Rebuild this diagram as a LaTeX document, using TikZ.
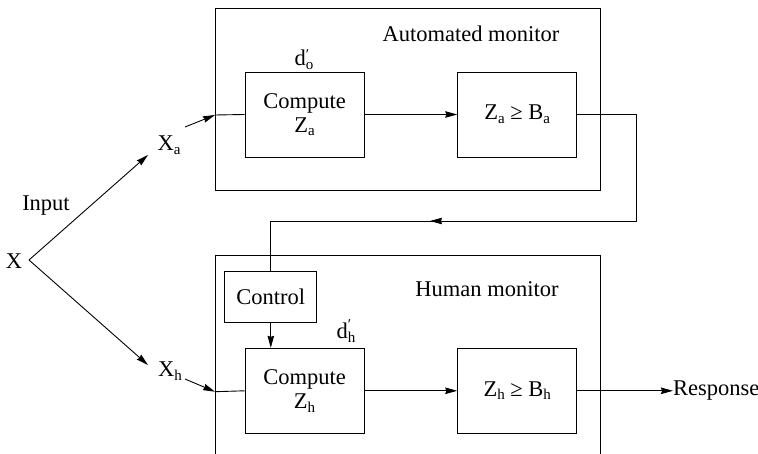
\documentclass[tikz,border=0pt]{standalone}
\usepackage{fontspec}
\setmainfont{Liberation Serif}
\usetikzlibrary{arrows.meta}
\newcommand\sbx[1]{\raisebox{-0.35ex}{\fontsize{15}{15}\selectfont #1}}
\newcommand\dps[1]{d\raisebox{-0.4ex}{\fontsize{15}{11}\selectfont\shortstack[l]{′\\#1}}}
\begin{document}
\begin{tikzpicture}[x=1pt,y=-1pt,
  every node/.style={font=\fontsize{22.5}{26}\selectfont, inner sep=0pt},
  blk/.style={draw, line width=0.9pt, minimum width=119pt, minimum height=85pt, align=center},
  ctl/.style={draw, line width=0.9pt, minimum width=92pt, minimum height=51pt},
  wire/.style={line width=0.9pt},
  arr/.style={line width=0.9pt, -{Stealth[length=12pt,width=6.5pt,inset=1pt]}},
  lbl/.style={}]
\useasboundingbox (0,0) rectangle (758,454);
% outer boxes
\draw[wire] (215,8.5) rectangle (600,190);
\draw[wire] (215,454) -- (215,255) -- (600,255) -- (600,454);
\node[lbl] (amon) at (471,34) {Automated monitor};
\node[lbl] (hmon) at (487,289) {Human monitor};
% blocks
\node[blk] (cza) at (304.5,114.5) {Compute\\[-2pt]Z\sbx{a}};
\node[blk] (zba) at (517.2,114.5) {Z\sbx{a} ≥ B\sbx{a}};
\node[blk] (czh) at (304.5,390.8) {Compute\\[-2pt]Z\sbx{h}};
\node[blk] (zbh) at (517.2,390.8) {Z\sbx{h} ≥ B\sbx{h}};
\node[ctl] (ctl) at (270.8,297.2) {Control};
\node[lbl] (dpo) at (304,60) {\dps{o}};
\node[lbl] (dph) at (346,331) {\dps{h}};
% inputs
\node[lbl] (x) at (14,261) {X};
\coordinate (xv) at (29,260);
\node[lbl] (input) at (46,206) {Input};
\node[lbl] (xa) at (169,145) {X\sbx{a}};
\node[lbl] (xh) at (170,371) {X\sbx{h}};
\coordinate (inA) at (215,115);
\coordinate (inH) at (215,391.7);
\coordinate (tipA) at (148,155);
\coordinate (tipH) at (148,365);
\coordinate (sA) at (185,127);
\coordinate (sH) at (185,379);
\draw[arr] (xv) -- (tipA);
\draw[arr] (xv) -- (tipH);
\draw[arr] (sA) -- (inA);
\draw[arr] (sH) -- (inH);
\draw[wire] (inA) -- (cza.west);
\draw[wire] (inH) -- (czh.west);
% internal flows
\draw[arr] (cza.east) -- (zba.west);
\draw[arr] (czh.east) -- (zbh.west);
% feedback
\coordinate (f1) at (636.7,114.5);
\coordinate (f2) at (636.7,221);
\coordinate (fm) at (430,221);
\coordinate (f3) at (ctl.north |- f2);
\draw[wire] (zba.east) -- (f1) -- (f2) -- (fm);
\draw[arr] (f2) -- (fm);
\draw[wire] (fm) -- (f3) -- (ctl.north);
\draw[arr] (ctl.south) -- (ctl.south |- czh.north);
% response
\node[lbl, anchor=west] (resp) at (673,390.8) {Response};
\draw[arr] (zbh.east) -- (resp.west);
\end{tikzpicture}
\end{document}
